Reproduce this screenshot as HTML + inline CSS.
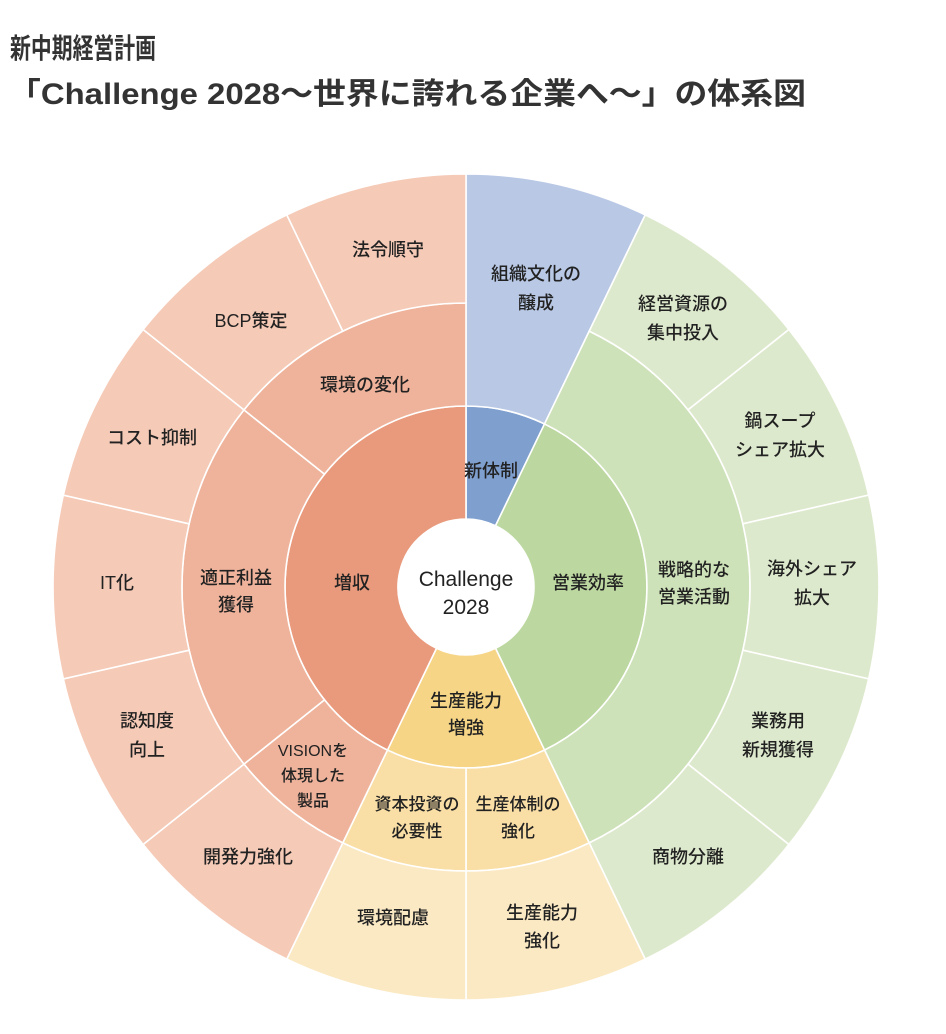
<!DOCTYPE html>
<html><head><meta charset="utf-8"><style>
html,body{margin:0;padding:0;background:#fff;}
svg{display:block}
text{font-family:"Liberation Sans","Noto Sans CJK JP",sans-serif;fill:#222;font-weight:500;}
.t{font-weight:bold;fill:#333}
</style></head><body>
<svg id="s" width="946" height="1034" viewBox="0 0 946 1034" xmlns="http://www.w3.org/2000/svg">
<text class="t" x="10" y="58" font-size="28" textLength="146" lengthAdjust="spacingAndGlyphs">新中期経営計画</text>
<text class="t" x="8" y="104" font-size="30" textLength="798" lengthAdjust="spacingAndGlyphs">「Challenge 2028～世界に誇れる企業へ～」の体系図</text>
<g id="arcs"></g>
<circle cx="466" cy="587" r="68" fill="#fff"/>
<g font-size="18" text-anchor="middle">
<text x="466" y="586" font-size="21">Challenge</text>
<text x="466" y="614" font-size="21">2028</text>
<text x="491" y="477">新体制</text>
<text x="588" y="589">営業効率</text>
<text x="466" y="707">生産能力</text><text x="466" y="734">増強</text>
<text x="352" y="589">増収</text>
<text x="536" y="280">組織文化の</text><text x="536" y="309">醸成</text>
<text x="683" y="310">経営資源の</text><text x="683" y="339">集中投入</text>
<text x="780" y="427">鍋スープ</text><text x="780" y="456">シェア拡大</text>
<text x="812" y="575">海外シェア</text><text x="812" y="604">拡大</text>
<text x="778" y="727">業務用</text><text x="778" y="756">新規獲得</text>
<text x="688" y="863">商物分離</text>
<text x="542" y="919">生産能力</text><text x="542" y="947">強化</text>
<text x="393" y="924">環境配慮</text>
<text x="248" y="863">開発力強化</text>
<text x="147" y="727">認知度</text><text x="147" y="756">向上</text>
<text x="117" y="589">IT化</text>
<text x="152" y="444">コスト抑制</text>
<text x="251" y="327">BCP策定</text>
<text x="388" y="256">法令順守</text>
<text x="365" y="391">環境の変化</text>
<text x="236" y="584">適正利益</text><text x="236" y="611">獲得</text>
<text x="694" y="576">戦略的な</text><text x="694" y="603">営業活動</text>
<text x="313" y="756" font-size="16">VISIONを</text><text x="313" y="781" font-size="16">体現した</text><text x="313" y="806" font-size="16">製品</text>
<text x="417" y="810" font-size="17">資本投資の</text><text x="417" y="837" font-size="17">必要性</text>
<text x="518" y="810" font-size="17">生産体制の</text><text x="518" y="837" font-size="17">強化</text>
</g>
</svg>
<script>
(function(){
var cx=466,cy=587,R0=68,R1=181,R2=284,R3=413,U=360/14;
function pt(r,a){a=a*Math.PI/180;return [cx+r*Math.sin(a),cy-r*Math.cos(a)];}
function seg(r0,r1,a0,a1,fill){
 var p1=pt(r1,a0),p2=pt(r1,a1),p3=pt(r0,a1),p4=pt(r0,a0),l=(a1-a0)>180?1:0;
 var d="M"+p1+" A"+r1+","+r1+" 0 "+l+" 1 "+p2+" L"+p3+" A"+r0+","+r0+" 0 "+l+" 0 "+p4+"Z";
 return '<path d="'+d+'" fill="'+fill+'" stroke="#fff" stroke-width="1.6"/>';
}
var h="";
h+=seg(R0,R1,0,U,"#7f9fcf");
h+=seg(R0,R1,U,6*U,"#bcd7a0");
h+=seg(R0,R1,6*U,8*U,"#f6d587");
h+=seg(R0,R1,8*U,14*U,"#e99a7c");
h+=seg(R1,R3,0,U,"#b8c8e5");
h+=seg(R1,R2,U,6*U,"#cde2b8");
h+=seg(R1,R2,6*U,7*U,"#f9dfa6");
h+=seg(R1,R2,7*U,8*U,"#f9dfa6");
h+=seg(R1,R2,8*U,9*U,"#efb39b");
h+=seg(R1,R2,9*U,12*U,"#efb39b");
h+=seg(R1,R2,12*U,14*U,"#efb39b");
for(var i=1;i<6;i++)h+=seg(R2,R3,i*U,(i+1)*U,"#dde9cc");
for(i=6;i<8;i++)h+=seg(R2,R3,i*U,(i+1)*U,"#fbe9c4");
for(i=8;i<14;i++)h+=seg(R2,R3,i*U,(i+1)*U,"#f5cab7");
document.getElementById("arcs").innerHTML=h;
})();
</script>
</body></html>
